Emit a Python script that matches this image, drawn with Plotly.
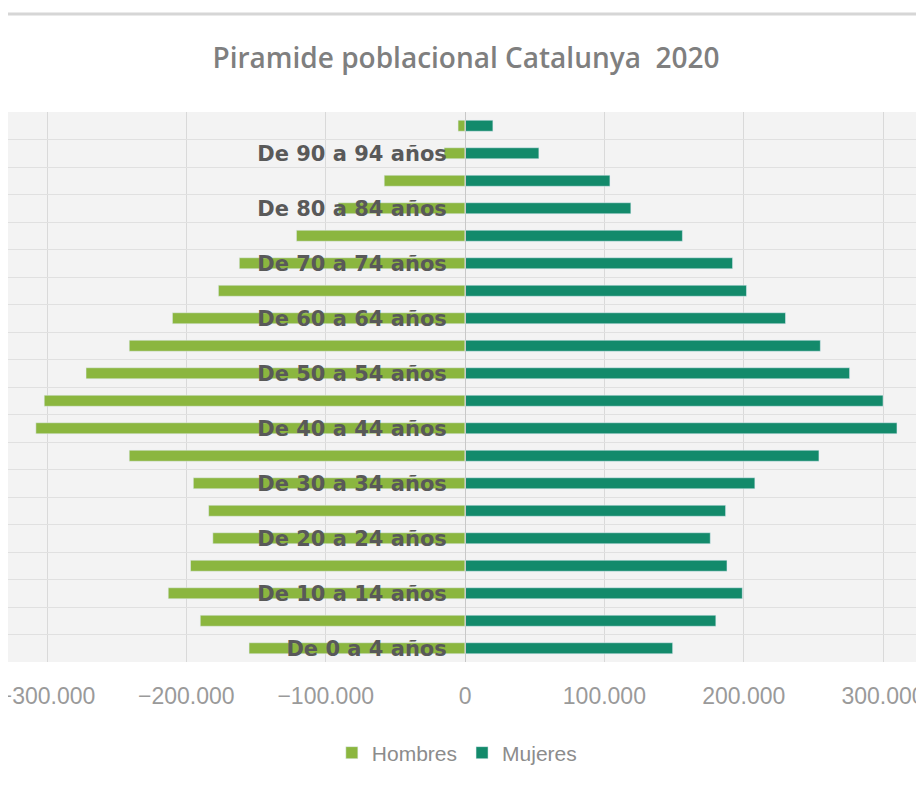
import plotly.graph_objects as go

categories = ["De 0 a 4 años", "De 5 a 9 años", "De 10 a 14 años", "De 15 a 19 años",
              "De 20 a 24 años", "De 25 a 29 años", "De 30 a 34 años", "De 35 a 39 años",
              "De 40 a 44 años", "De 45 a 49 años", "De 50 a 54 años", "De 55 a 59 años",
              "De 60 a 64 años", "De 65 a 69 años", "De 70 a 74 años", "De 75 a 79 años",
              "De 80 a 84 años", "De 85 a 89 años", "De 90 a 94 años", "De 95 años y más"]
tick_labels = ["De 0 a 4 años", "", "De 10 a 14 años", "", "De 20 a 24 años", "",
               "De 30 a 34 años", "", "De 40 a 44 años", "", "De 50 a 54 años", "",
               "De 60 a 64 años", "", "De 70 a 74 años", "", "De 80 a 84 años", "",
               "De 90 a 94 años", ""]

hombres = [155000, 190000, 213000, 197000, 181000, 184000, 195000, 241000, 308000, 302000,
           272000, 241000, 210000, 177000, 162000, 121000, 91000, 58000, 15000, 5000]
mujeres = [149000, 180000, 199000, 188000, 176000, 187000, 208000, 254000, 310000, 300000,
           276000, 255000, 230000, 202000, 192000, 156000, 119000, 104000, 53000, 20000]

x_ticks = [-300000, -200000, -100000, 0, 100000, 200000, 300000]
x_range = [-328000, 329400]

green_h = "#8bb63f"
teal_m = "#138a6b"

W, H = 916, 781
fig = go.Figure()
fig.add_trace(go.Bar(y=categories, x=[-v for v in hombres], orientation="h",
                     name="Hombres", marker=dict(color=green_h)))
fig.add_trace(go.Bar(y=categories, x=mujeres, orientation="h",
                     name="Mujeres", marker=dict(color=teal_m)))

zero_pos = (0 - x_range[0]) / (x_range[1] - x_range[0])
plot_top, plot_bottom = 104, 654

fig.update_layout(
    width=W, height=H,
    margin=dict(l=0, r=0, t=plot_top, b=H - plot_bottom, autoexpand=False),
    paper_bgcolor="white",
    plot_bgcolor="#f3f3f3",
    barmode="relative",
    bargap=0.6,
    separators=",.",
    title=dict(text="Piramide poblacional Catalunya  2020",
               x=0.5, xref="container", xanchor="center",
               y=1 - 50 / H, yref="container", yanchor="middle",
               font=dict(family="Open Sans", size=28, color="#7f7f7f", weight=600)),
    legend=dict(orientation="h", x=0.49, xref="container", xanchor="center",
                y=1 - 745 / H, yref="container", yanchor="middle",
                font=dict(family="Liberation Sans", size=21, color="#8c8c8c"),
                traceorder="normal"),
    xaxis=dict(range=x_range, tickvals=x_ticks, tickformat=",d",
               showgrid=True, gridcolor="#d9d9d9", gridwidth=1,
               zeroline=False, showline=False, ticks="", automargin=False,
               ticklabelstandoff=18, ticklabeloverflow="allow",
               tickfont=dict(family="Liberation Sans", size=23, color="#9a9a9a")),
    yaxis=dict(type="category", categoryorder="array", categoryarray=categories,
               tickmode="array", tickvals=categories, ticktext=tick_labels,
               tickson="boundaries", ticks="", showgrid=True, gridcolor="#e0e0e0",
               anchor="free", position=zero_pos, automargin=False,
               showline=True, linecolor="#c8c8c8", linewidth=1,
               ticklabelstandoff=14, ticklabeloverflow="allow",
               tickfont=dict(family="DejaVu Sans", size=21, color="#595959", weight="bold")),
    shapes=[dict(type="line", xref="paper", yref="paper",
                 x0=0, x1=1.0,
                 y0=(plot_bottom - 6) / (plot_bottom - plot_top),
                 y1=(plot_bottom - 6) / (plot_bottom - plot_top),
                 line=dict(color="#d6d6d6", width=3))],
)

fig.write_html("out.html")
